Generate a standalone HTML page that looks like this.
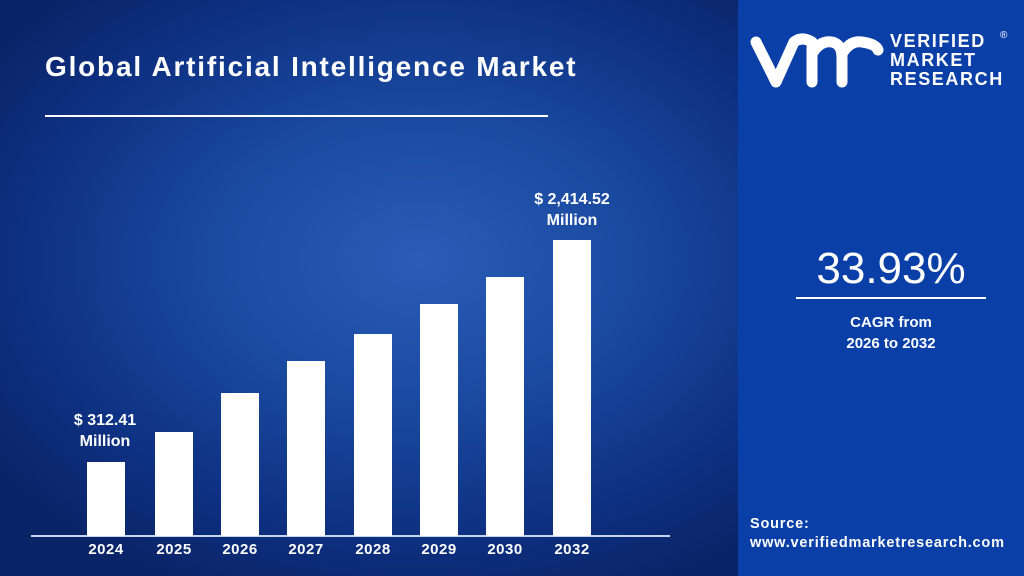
<!DOCTYPE html>
<html><head><meta charset="utf-8"><style>
*{margin:0;padding:0;box-sizing:border-box}
body{width:1024px;height:576px;overflow:hidden;font-family:"Liberation Sans",sans-serif;position:relative;background:#0a2a78}
#left{position:absolute;left:0;top:0;width:738px;height:576px;background:radial-gradient(ellipse 520px 360px at 420px 260px,#2a5cb8 0%,#1a4aa0 40%,#0e3183 75%,#0a2468 100%)}
#right{position:absolute;left:738px;top:0;width:286px;height:576px;background:#0b3fa8}
.t{position:absolute;color:#fff;font-weight:bold;white-space:nowrap}
.bar{position:absolute;background:#fff;width:38px}
.yr{position:absolute;color:#fff;font-weight:bold;font-size:15px;width:60px;text-align:center;top:541px;letter-spacing:0.5px}
</style></head><body>
<div id="left"></div>
<div id="right"></div>
<div class="t" style="left:45px;top:51px;font-size:28px;letter-spacing:1.8px">Global Artificial Intelligence Market</div>
<div style="position:absolute;left:45px;top:115px;width:503px;height:2px;background:#fff"></div>
<div style="position:absolute;left:31px;top:535px;width:639px;height:2px;background:#c8d4ee"></div>
<div class="bar" style="left:87px;top:462px;height:74px"></div>
<div class="bar" style="left:155px;top:432px;height:104px"></div>
<div class="bar" style="left:221px;top:393px;height:143px"></div>
<div class="bar" style="left:287px;top:361px;height:175px"></div>
<div class="bar" style="left:354px;top:334px;height:202px"></div>
<div class="bar" style="left:420px;top:304px;height:232px"></div>
<div class="bar" style="left:486px;top:277px;height:259px"></div>
<div class="bar" style="left:553px;top:240px;height:296px"></div>
<div class="yr" style="left:76px">2024</div>
<div class="yr" style="left:144px">2025</div>
<div class="yr" style="left:210px">2026</div>
<div class="yr" style="left:276px">2027</div>
<div class="yr" style="left:343px">2028</div>
<div class="yr" style="left:409px">2029</div>
<div class="yr" style="left:475px">2030</div>
<div class="yr" style="left:542px">2032</div>
<div class="t" style="left:60px;top:410px;width:90px;text-align:center;font-size:16px;line-height:21px">$ 312.41<br>Million</div>
<div class="t" style="left:522px;top:189px;width:100px;text-align:center;font-size:16px;line-height:21px">$ 2,414.52<br>Million</div>
<svg style="position:absolute;left:750px;top:32px" width="135" height="58" viewBox="0 0 135 58">
<path d="M6 10 L26 50 L44 10 Q52 4 62 10 L62 50 M62 22 Q70 8 82 10 Q92 12 92 26 L92 50 M92 22 Q100 8 112 10 Q126 12 128 18" fill="none" stroke="#fff" stroke-width="11" stroke-linecap="round" stroke-linejoin="round"/>
</svg>
<div class="t" style="left:890px;top:32px;font-size:18px;line-height:19px;letter-spacing:1.6px">VERIFIED<br>MARKET<br>RESEARCH</div>
<div class="t" style="left:1000px;top:30px;font-size:10px;font-weight:normal">®</div>
<div class="t" style="left:791px;top:244px;width:200px;text-align:center;font-size:44px;font-weight:normal">33.93%</div>
<div style="position:absolute;left:796px;top:297px;width:190px;height:2px;background:#fff"></div>
<div class="t" style="left:796px;top:312px;width:190px;text-align:center;font-size:15px;line-height:21px">CAGR from<br>2026 to 2032</div>
<div class="t" style="left:750px;top:515px;font-size:14.5px;line-height:19px;letter-spacing:0.8px">Source:<br>www.verifiedmarketresearch.com</div>
</body></html>
